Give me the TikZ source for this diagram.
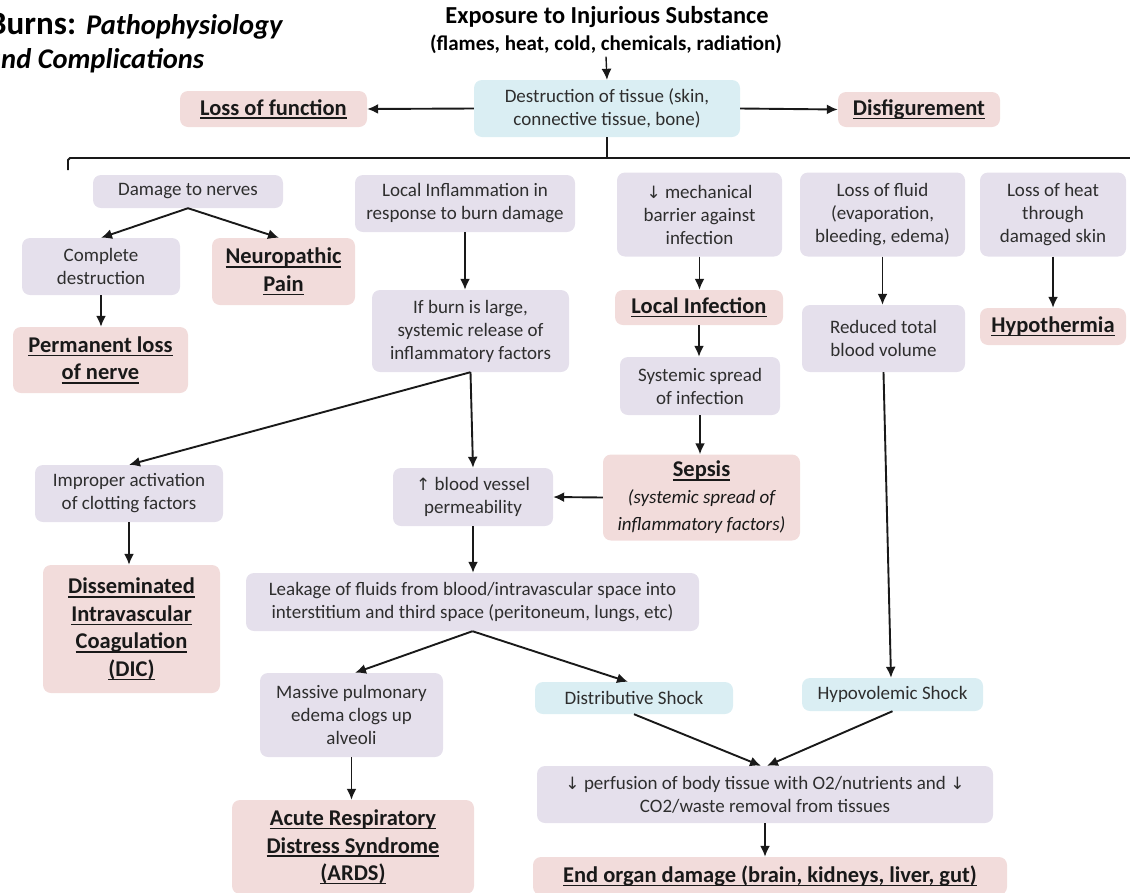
\documentclass[tikz,border=0pt]{standalone}
\usepackage{fontspec}
\setmainfont{Carlito}
\newfontfamily\arrfont{DejaVu Sans}
\usetikzlibrary{arrows.meta}
\newcommand{\myul}[1]{\leavevmode\setbox0\hbox{#1}\rlap{\vrule width\wd0 height -2.3pt depth 3.8pt}\box0}
\newcommand{\dn}{{\arrfont\fontsize{17}{17}\selectfont↓}}
\newcommand{\up}{{\arrfont\fontsize{17}{17}\selectfont↑}}
\newcommand{\bodyf}{\fontsize{19}{23}\selectfont}
\newcommand{\headf}{\bfseries\fontsize{22.5}{27.5}\selectfont}
\definecolor{lav}{HTML}{E5E0EC}
\definecolor{pnk}{HTML}{F2DCDB}
\definecolor{blu}{HTML}{DAEEF3}
\definecolor{txt}{HTML}{2E2E2E}
\tikzset{
  box/.style={rounded corners=8pt, align=center, inner sep=0pt},
  lav/.style={box, fill=lav, font=\bodyf, text=txt},
  pnk/.style={box, fill=pnk, font=\headf, text=black!90},
  blu/.style={box, fill=blu, font=\bodyf, text=txt},
  arr/.style={-{Latex[length=11pt,width=10pt]}, line width=1.9pt, black!90},
}
\begin{document}
\begin{tikzpicture}[x=1pt,y=-1pt]
\clip (0,0) rectangle (1130,892);
\useasboundingbox (0,0) rectangle (1130,892);
% title
\node[anchor=base west, inner sep=0pt, font=\bfseries\fontsize{33}{38}\selectfont] (t1) at (-12,34) {Burns: \textit{\fontsize{28.5}{32}\selectfont Pathophysiology}};
\node[anchor=base west, inner sep=0pt, font=\bfseries\itshape\fontsize{28.5}{32}\selectfont] (t2) at (-14,68) {and Complications};
\node[inner sep=0pt, font=\bfseries\fontsize{24.4}{28}\selectfont] (exp) at (607,17) {Exposure to Injurious Substance};
\node[inner sep=0pt, font=\bfseries\fontsize{21}{24}\selectfont] (expb) at (606,44) {(flames, heat, cold, chemicals, radiation)};
% top row
\node[blu, minimum width=266pt, minimum height=57pt] (dest) at (607,108.5) {Destruction of tissue (skin,\\connective tissue, bone)};
\node[pnk, minimum width=187pt, minimum height=36pt] (lof) at (273.5,109) {\myul{Loss of function}};
\node[pnk, minimum width=162pt, minimum height=35pt] (dis) at (919,109.5) {\myul{Disfigurement}};
\draw[arr, line width=1.4pt] (expb.south) ++(0,3) -- (dest.north);
\draw[arr] (dest.west) -- (lof.east);
\draw[arr] (dest.east) -- (dis.east -| dis.west);
% brace
\coordinate (bl) at (68,170);
\coordinate (bc) at (607,158);
\coordinate (br) at (1135,158);
\draw[line width=1.9pt, black!90] (bl) -- (68,160) -- (70,158) -- (br);
\draw[line width=1.4pt, black!90] (dest.south) -- (bc);
% heads
\node[lav, minimum width=190pt, minimum height=33pt] (dmg) at (188,191.5) {Damage to nerves};
\node[lav, minimum width=220pt, minimum height=57pt] (linf) at (465,203.5) {Local Inflammation in\\response to burn damage};
\node[lav, minimum width=165pt, minimum height=84pt] (mech) at (699.5,214.5) {\dn\ mechanical\\barrier against\\infection};
\node[lav, minimum width=165pt, minimum height=84pt] (lfl) at (882.5,214.5) {Loss of fluid\\(evaporation,\\bleeding, edema)};
\node[lav, minimum width=146pt, minimum height=84pt] (lht) at (1053,214.5) {Loss of heat\\through\\damaged skin};
% second row
\node[lav, minimum width=158pt, minimum height=57pt] (cd) at (101,266.5) {Complete\\destruction};
\node[pnk, minimum width=143pt, minimum height=67pt] (np) at (283.5,271.5) {\myul{Neuropathic}\\\myul{Pain}};
\node[pnk, minimum width=175pt, minimum height=66pt] (pl) at (100.5,360) {\myul{Permanent loss}\\\myul{of nerve}};
\node[lav, minimum width=197pt, minimum height=82pt] (ifb) at (470.5,331) {If burn is large,\\systemic release of\\inflammatory factors};
\node[pnk, minimum width=168pt, minimum height=35pt] (li) at (699,307.5) {\myul{Local Infection}};
\node[lav, minimum width=163pt, minimum height=67pt] (red) at (883.5,338.5) {Reduced total\\blood volume};
\node[pnk, minimum width=146pt, minimum height=37pt] (hyp) at (1053,326.5) {\myul{Hypothermia}};
\node[lav, minimum width=160pt, minimum height=58pt] (syst) at (700,386) {Systemic spread\\of infection};
\node[pnk, minimum width=197pt, minimum height=86pt] (sep) at (701.5,497.5) {\myul{Sepsis}\\[-1pt]{\mdseries\itshape\fontsize{19}{23}\selectfont (systemic spread of}\\{\mdseries\itshape\fontsize{19}{23}\selectfont inflammatory factors)}};
\node[lav, minimum width=160pt, minimum height=58pt] (bvp) at (473,497) {\up\ blood vessel\\permeability};
\node[lav, minimum width=188pt, minimum height=57pt] (imp) at (129,493.5) {Improper activation\\of clotting factors};
\node[pnk, minimum width=177pt, minimum height=128pt] (dic) at (131.5,629) {\myul{Disseminated}\\\myul{Intravascular}\\\myul{Coagulation}\\\myul{(DIC)}};
\node[lav, minimum width=453pt, minimum height=58pt] (leak) at (472.5,602) {Leakage of fluids from blood/intravascular space into\\interstitium and third space (peritoneum, lungs, etc)};
\node[lav, minimum width=183pt, minimum height=84pt] (mas) at (351.5,715) {Massive pulmonary\\edema clogs up\\alveoli};
\node[pnk, minimum width=242pt, minimum height=94pt] (ards) at (353,847) {\myul{Acute Respiratory}\\\myul{Distress Syndrome}\\\myul{(ARDS)}};
\node[blu, minimum width=198pt, minimum height=32pt] (dist) at (634,698) {Distributive Shock};
\node[blu, minimum width=181pt, minimum height=33pt] (hyps) at (892.5,694.5) {Hypovolemic Shock};
\node[lav, minimum width=456pt, minimum height=57pt] (perf) at (765,794.5) {\dn\ perfusion of body tissue with O2/nutrients and \dn\\CO2/waste removal from tissues};
\node[pnk, minimum width=474pt, minimum height=38pt] (endd) at (770,876) {\myul{End organ damage (brain, kidneys, liver, gut)}};
% arrows
\draw[arr] (dmg.south) -- (cd.north);
\draw[arr] (dmg.south) -- (np.north -| 279,0);
\draw[arr] (cd.south) -- (pl.north -| cd.south);
\draw[arr] (linf.south) -- (linf.south |- ifb.north);
\draw[arr] (mech.south) -- (li.north -| mech.south);
\draw[arr] (lfl.south) -- (red.north -| lfl.south);
\draw[arr] (lht.south) -- (hyp.north);
\draw[arr] (li.south) -- (syst.north -| li.south);
\draw[arr] (syst.south) -- (sep.north -| syst.south);
\draw[arr] (ifb.south) -- (imp.north);
\draw[arr] (ifb.south) -- (bvp.north);
\draw[arr] (sep.west) -- (bvp.east);
\draw[arr] (imp.south) -- (dic.north -| imp.south);
\draw[arr] (bvp.south) -- (leak.north -| bvp.south);
\draw[arr] (leak.south) -- (mas.north -| 355,0);
\draw[arr] (leak.south) -- (dist.north -| 628,0);
\draw[arr] (mas.south) -- (ards.north -| mas.south);
\draw[arr] (red.south) -- (hyps.north -| 891,0);
\draw[arr] (dist.south) -- ([xshift=-4pt]perf.north);
\draw[arr] (hyps.south) -- ([xshift=2pt]perf.north);
\draw[arr] (perf.south) -- (endd.north -| perf.south);
\end{tikzpicture}
\end{document}
